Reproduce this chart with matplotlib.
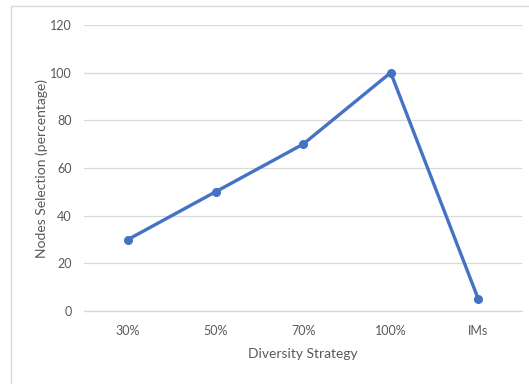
import matplotlib.pyplot as plt
from matplotlib.patches import Rectangle

# chart data
categories = ["30%", "50%", "70%", "100%", "IMs"]
selection = [30, 50, 70, 100, 5]
y_ticks = [0, 20, 40, 60, 80, 100, 120]

plt.rcParams['font.family'] = ['Lato', 'DejaVu Sans']

fig = plt.figure(figsize=(5.29, 3.84), dpi=100)
ax = fig.add_axes([0.159, 0.19, 0.828, 0.745])

# light frame around the chart area, like the Excel chart border
fig.patches.append(Rectangle((11 / 529, -0.1), 1.2, 0.1 + (384 - 6) / 384,
                             transform=fig.transFigure, fill=False,
                             edgecolor='#D9D9D9', linewidth=1.0))

x = list(range(len(categories)))
ax.plot(x, selection, color='#4472C4', linewidth=2.4, marker='o', markersize=5.5,
        solid_capstyle='round', zorder=3)

ax.set_xlim(-0.5, len(categories) - 0.5)
ax.set_ylim(0, 120)
ax.set_yticks(y_ticks)
ax.set_xticks(x)
ax.set_xticklabels(categories)

ax.grid(axis='y', color='#D9D9D9', linewidth=0.9)
ax.set_axisbelow(True)
for side in ['top', 'right', 'left']:
    ax.spines[side].set_visible(False)
ax.spines['bottom'].set_color('#D9D9D9')
ax.spines['bottom'].set_linewidth(1.0)
ax.tick_params(axis='both', length=0, colors='#595959', labelsize=9)
ax.tick_params(axis='y', pad=9)
ax.tick_params(axis='x', pad=10)

ax.set_xlabel("Diversity Strategy", fontsize=10, color='#595959', labelpad=8)
ax.set_ylabel("Nodes Selection (percentage)", fontsize=10, color='#595959', labelpad=1)

fig.savefig("out.png", dpi=100)
